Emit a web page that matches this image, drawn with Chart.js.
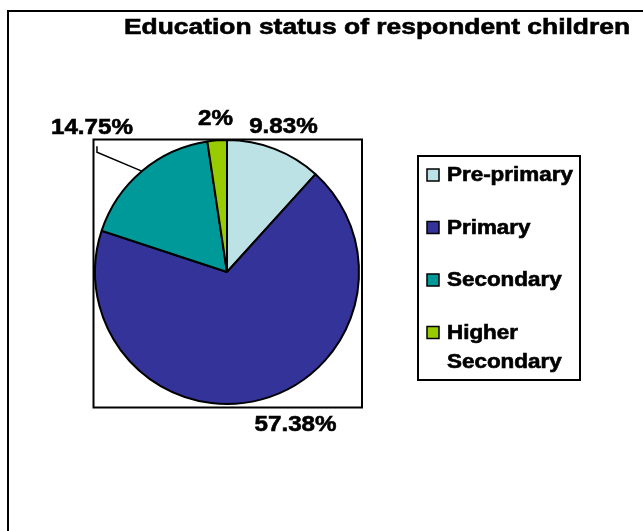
<!DOCTYPE html>
<html>
<head>
<meta charset="utf-8">
<script src="https://cdn.jsdelivr.net/npm/chart.js@4/dist/chart.umd.min.js"></script>
<style>
  html, body { margin: 0; padding: 0; background: #fff; }
  #wrap { width: 643px; height: 531px; }
</style>
</head>
<body>
<div id="wrap"><canvas id="eduChart" width="643" height="531"></canvas></div>
<script>
const titleText = 'Education status of respondent children';
const categories = ['Pre-primary', 'Primary', 'Secondary', 'Higher Secondary'];
const percentValues = [9.83, 57.38, 14.75, 2];
const sliceColors = ['#BCE2E6', '#333399', '#009999', '#99CC00'];

// label placement around the rim: [angle tweak in degrees, distance past the rim]
const labelShift = [[0, 25], [-9.4, 35], [-2.8, 66], [0, 22]];
const leaderIndex = 2; // the one label pulled away with a leader line

const FONT = '"Liberation Sans", Arial, sans-serif';
const WIDEN = 1.15; // text is drawn a little wide, like the old Excel export

function wideText(ctx, text, x, y, align, sx) {
    ctx.save();
    ctx.translate(x, y);
    ctx.scale(sx, 1);
    ctx.textAlign = align;
    ctx.lineWidth = 0.6;
    ctx.strokeStyle = ctx.fillStyle;
    ctx.fillText(text, 0, 0);
    ctx.strokeText(text, 0, 0);
    ctx.restore();
}

function fmtPct(v) {
    return v + '%';
}

const framePlugin = {
    id: 'frames',
    beforeDraw(chart) {
        const ctx = chart.ctx;
        const a = chart.chartArea;
        ctx.save();
        ctx.fillStyle = '#fff';
        ctx.fillRect(0, 0, chart.width, chart.height);

        // outer chart border (runs off the right and bottom)
        ctx.strokeStyle = '#000';
        ctx.lineWidth = 2;
        ctx.strokeRect(8, 11, chart.width + 20, chart.height + 20);

        // plot area box
        ctx.strokeRect(a.left - 0.5, a.top + 0.5, a.right - a.left + 2.5, a.bottom - a.top + 2);
        ctx.restore();
    },
    afterDraw(chart) {
        const ctx = chart.ctx;
        const arcs = chart.getDatasetMeta(0).data;
        ctx.save();
        ctx.fillStyle = '#000';

        // percentage labels
        ctx.font = 'bold 22px ' + FONT;
        ctx.textBaseline = 'middle';
        arcs.forEach((arc, i) => {
            const p = arc.getProps(['x', 'y', 'startAngle', 'endAngle', 'outerRadius']);
            const mid = (p.startAngle + p.endAngle) / 2;
            const ang = mid + labelShift[i][0] * Math.PI / 180;
            const dist = p.outerRadius + labelShift[i][1];
            const lx = p.x + Math.cos(ang) * dist;
            const ly = p.y + Math.sin(ang) * dist;
            wideText(ctx, fmtPct(percentValues[i]), lx, ly + 1, 'center', 1.1);

            if (i === leaderIndex) {
                const rx = p.x + Math.cos(mid) * p.outerRadius;
                const ry = p.y + Math.sin(mid) * p.outerRadius;
                ctx.beginPath();
                ctx.lineWidth = 1.5;
                ctx.strokeStyle = '#000';
                ctx.moveTo(rx, ry);
                ctx.lineTo(lx + 5, ly + 25);
                ctx.lineTo(lx + 5, ly + 19);
                ctx.stroke();
            }
        });

        // title
        ctx.font = 'bold 22px ' + FONT;
        ctx.textBaseline = 'alphabetic';
        wideText(ctx, titleText, 377, 34, 'center', 1.2);

        // legend
        const box = { x: 418, y: 156, w: 162, h: 224 };
        ctx.lineWidth = 2;
        ctx.strokeStyle = '#000';
        ctx.strokeRect(box.x, box.y, box.w, box.h);
        ctx.font = 'bold 19.5px ' + FONT;
        ctx.textBaseline = 'middle';
        categories.forEach((name, i) => {
            const cy = 175 + i * 52.5;
            ctx.fillStyle = sliceColors[i];
            ctx.fillRect(427, cy - 6, 12, 12);
            ctx.lineWidth = 1.5;
            ctx.strokeStyle = '#000';
            ctx.strokeRect(427, cy - 6, 12, 12);
            ctx.fillStyle = '#000';
            let lines = [name];
            if (ctx.measureText(name).width * WIDEN > box.x + box.w - 447 && name.includes(' ')) {
                lines = name.split(' ');
            }
            lines.forEach((ln, k) => wideText(ctx, ln, 447, cy + 1 + k * 29, 'left', WIDEN));
        });
        ctx.restore();
    }
};

new Chart(document.getElementById('eduChart'), {
    type: 'pie',
    data: {
        labels: categories,
        datasets: [{
            data: percentValues,
            backgroundColor: sliceColors,
            borderColor: '#000',
            borderWidth: 2
        }]
    },
    options: {
        responsive: false,
        animation: false,
        layout: { padding: { left: 94, top: 139, right: 283, bottom: 126 } },
        plugins: {
            legend: { display: false },
            tooltip: { enabled: false },
            title: { display: false }
        }
    },
    plugins: [framePlugin]
});
</script>
</body>
</html>
